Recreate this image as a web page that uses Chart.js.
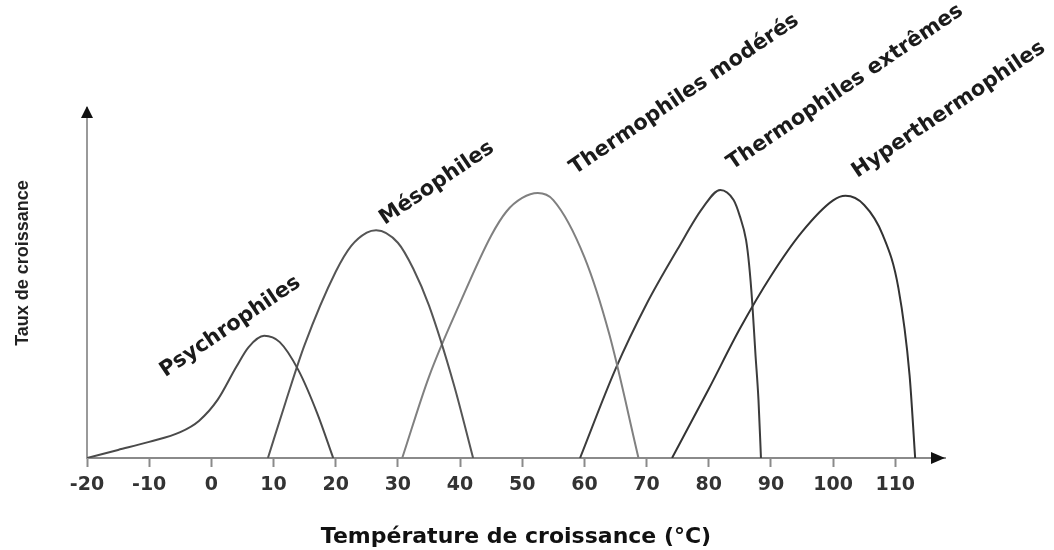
<!DOCTYPE html>
<html lang="fr">
<head>
<meta charset="utf-8">
<title>Taux de croissance selon la température</title>
<script src="https://cdn.jsdelivr.net/npm/chart.js@4.4.1/dist/chart.umd.min.js"></script>
<style>
  html, body { margin: 0; padding: 0; background: #fff; }
  #wrap { width: 1054px; height: 550px; }
</style>
</head>
<body>
<div id="wrap"><canvas id="growthChart"></canvas></div>
<script>
// Température (°C) et taux de croissance (unités relatives, 0-100)
const psychroTemp = [-20, -15, -10, -5, -2, 1, 4, 6, 8.5, 11, 14, 17, 19.6];
const psychroRate = [0, 2.3, 4.6, 7.4, 10.6, 16.6, 26, 31.7, 34.9, 33.1, 25.1, 12.9, 0];

const mesoTemp = [9.1, 12, 15, 20, 22.5, 25, 26.5, 30, 32.5, 35, 39, 42.1];
const mesoRate = [0, 16.3, 32.3, 53.2, 60.6, 64.4, 65.1, 61.5, 54, 43.6, 21, 0];

const thermoModTemp = [30.7, 35, 40, 45, 47.5, 50, 52.5, 55, 60, 64, 68.7];
const thermoModRate = [0, 23.2, 44.3, 63.5, 70.5, 74.3, 75.7, 73.7, 57.4, 35.4, 0];

const thermoExtTemp = [59.3, 65, 70, 75, 79, 81.85, 84, 85, 86, 86.5, 87, 87.5, 88, 88.4];
const thermoExtRate = [0, 25.4, 44, 59.7, 71.4, 76.6, 73.7, 69.1, 62.3, 55.1, 44.3, 30, 16.6, 0];

const hyperTemp = [74.1, 80, 85, 90, 95, 100, 102, 105, 108, 110.5, 112.3, 113.2];
const hyperRate = [0, 19.7, 36.9, 52, 64.6, 73.6, 74.9, 72.3, 63.7, 48.6, 23.7, 0];

const groupNames = ['Psychrophiles', 'Mésophiles', 'Thermophiles modérés', 'Thermophiles extrêmes', 'Hyperthermophiles'];
// où commence chaque nom (température, taux)
const nameTemp = [-7.4, 27.9, 58.5, 83.8, 103.9];
const nameRate = [23.1, 66.6, 80.9, 82.3, 80];

const xTicks = [-20, -10, 0, 10, 20, 30, 40, 50, 60, 70, 80, 90, 100, 110];

const toPoints = (xs, ys) => xs.map((t, i) => ({ x: t, y: ys[i] }));

function curve(label, xs, ys, color) {
    return {
        label: label,
        data: toPoints(xs, ys),
        showLine: true,
        borderColor: color,
        borderWidth: 2,
        pointRadius: 0,
        fill: false,
        cubicInterpolationMode: 'monotone'
    };
}

// flèches des axes, noms des courbes et titre vertical
const decorations = {
    id: 'decorations',
    afterDraw(chart) {
        const { ctx, chartArea: a, scales: { x, y } } = chart;
        ctx.save();
        ctx.fillStyle = '#111';
        ctx.beginPath();
        ctx.moveTo(a.right, a.bottom);
        ctx.lineTo(a.right - 14, a.bottom - 6);
        ctx.lineTo(a.right - 14, a.bottom + 6);
        ctx.closePath();
        ctx.fill();

        ctx.beginPath();
        ctx.moveTo(a.left, a.top - 2);
        ctx.lineTo(a.left - 6, a.top + 10);
        ctx.lineTo(a.left + 6, a.top + 10);
        ctx.closePath();
        ctx.fill();

        ctx.font = 'bold 21px "DejaVu Sans"';
        ctx.fillStyle = '#1b1b1b';
        ctx.textAlign = 'left';
        ctx.textBaseline = 'alphabetic';
        groupNames.forEach((name, i) => {
            ctx.save();
            ctx.translate(x.getPixelForValue(nameTemp[i]), y.getPixelForValue(nameRate[i]));
            ctx.rotate(-34 * Math.PI / 180);
            ctx.fillText(name, 0, 0);
            ctx.restore();
        });

        ctx.translate(23, 263);
        ctx.rotate(-Math.PI / 2);
        ctx.font = 'bold 18px "Liberation Sans Narrow", "Liberation Sans"';
        ctx.fillStyle = '#222';
        ctx.textAlign = 'center';
        ctx.textBaseline = 'middle';
        ctx.fillText('Taux de croissance', 0, 0);
        ctx.restore();
    }
};

const ctx = document.getElementById('growthChart').getContext('2d');
const growthChart = new Chart(ctx, {
    type: 'scatter',
    data: {
        datasets: [
            curve(groupNames[0], psychroTemp, psychroRate, '#4a4a4a'),
            curve(groupNames[1], mesoTemp, mesoRate, '#555'),
            curve(groupNames[2], thermoModTemp, thermoModRate, '#808080'),
            curve(groupNames[3], thermoExtTemp, thermoExtRate, '#3c3c3c'),
            curve(groupNames[4], hyperTemp, hyperRate, '#333')
        ]
    },
    options: {
        responsive: true,
        maintainAspectRatio: false,
        animation: false,
        layout: { padding: { left: 0, right: 109, top: 108, bottom: 0 } },
        plugins: {
            legend: { display: false },
            tooltip: { enabled: false }
        },
        scales: {
            x: {
                type: 'linear',
                min: -20,
                max: 118,
                afterFit: s => { s.height = 92; },
                afterBuildTicks: s => { s.ticks = xTicks.map(v => ({ value: v })); },
                grid: { drawOnChartArea: false, drawTicks: true, tickLength: 9, tickColor: '#8a8a8a', tickWidth: 2 },
                border: { display: true, color: '#8a8a8a', width: 2 },
                ticks: {
                    color: '#333',
                    padding: 7,
                    maxRotation: 0,
                    autoSkip: false,
                    font: { family: 'DejaVu Sans', weight: 'bold', size: 19 }
                },
                title: {
                    display: true,
                    text: 'Température de croissance (°C)',
                    color: '#111',
                    padding: { top: 0, bottom: 0 },
                    font: { family: 'DejaVu Sans', weight: 'bold', size: 22 }
                }
            },
            y: {
                min: 0,
                max: 100,
                afterFit: s => { s.width = 87; },
                grid: { display: false },
                border: { display: true, color: '#9a9a9a', width: 2 },
                ticks: { display: false }
            }
        }
    },
    plugins: [decorations]
});
</script>
</body>
</html>
